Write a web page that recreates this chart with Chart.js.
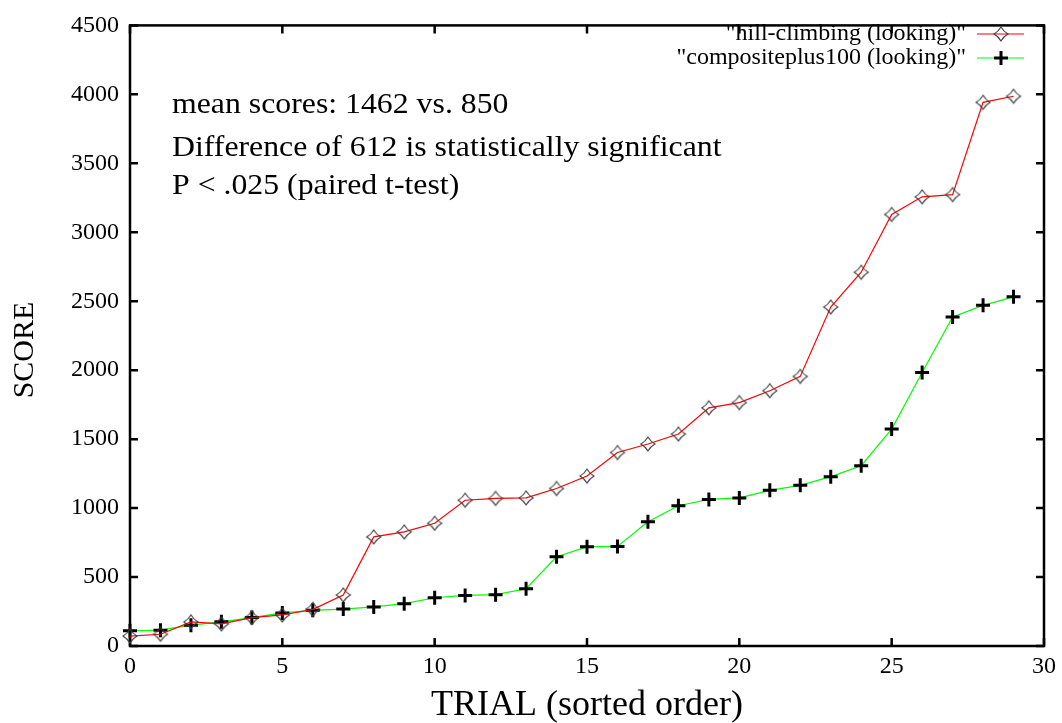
<!DOCTYPE html>
<html>
<head>
<meta charset="utf-8">
<script src="https://cdn.jsdelivr.net/npm/chart.js@4/dist/chart.umd.min.js"></script>
<style>
  html, body { margin: 0; padding: 0; background: #fff; }
  #wrap { width: 1062px; height: 723px; }
</style>
</head>
<body>
<div id="wrap"><canvas id="c" width="1062" height="723"></canvas></div>
<script>
// Trial index (runs sorted by score)
const trials = [0, 1, 2, 3, 4, 5, 6, 7, 8, 9, 10, 11, 12, 13, 14, 15, 16, 17, 18, 19,
                20, 21, 22, 23, 24, 25, 26, 27, 28, 29];

// Scores per trial, sorted ascending
const hillClimbing = [72, 85, 175, 160, 206, 225, 266, 370, 791, 827, 890, 1057, 1070, 1074,
                      1142, 1232, 1403, 1465, 1537, 1727, 1765, 1851, 1955, 2458, 2710, 3129,
                      3257, 3273, 3942, 3986];
const compositePlus100 = [110, 115, 151, 175, 206, 240, 259, 268, 283, 307, 350, 367, 372, 415,
                          647, 719, 722, 901, 1017, 1063, 1074, 1129, 1165, 1228, 1307, 1573,
                          1983, 2386, 2470, 2532];

const seriesLabels = ['"hill-climbing (looking)"', '"compositeplus100 (looking)"'];
const xTicks = [0, 5, 10, 15, 20, 25, 30];
const yTicks = [0, 500, 1000, 1500, 2000, 2500, 3000, 3500, 4000, 4500];
const noteLines = ['mean scores: 1462 vs. 850',
                   'Difference of 612 is statistically significant',
                   'P < .025 (paired t-test)'];
const xTitle = 'TRIAL (sorted order)';
const yTitle = 'SCORE';

const SERIF = '"Liberation Serif", "Times New Roman", serif';

// Concave four-point star marker
function makeStar(r, color) {
  const pad = 2;
  const s = Math.ceil(2 * r + 2 * pad);
  const cv = document.createElement('canvas');
  cv.width = s; cv.height = s;
  const g = cv.getContext('2d');
  const c = s / 2, k = 0.36 * r;
  g.beginPath();
  g.moveTo(c, c - r);
  g.quadraticCurveTo(c + k, c - k, c + r, c);
  g.quadraticCurveTo(c + k, c + k, c, c + r);
  g.quadraticCurveTo(c - k, c + k, c - r, c);
  g.quadraticCurveTo(c - k, c - k, c, c - r);
  g.closePath();
  g.strokeStyle = color;
  g.lineWidth = 1.1;
  g.stroke();
  return cv;
}
const starMarker = makeStar(7, '#404040');

const toPoints = (ys) => trials.map((t, i) => ({ x: t, y: ys[i] }));

// Frame box with inward tick marks on all four sides
const framePlugin = {
  id: 'frame',
  beforeDatasetsDraw(chart) {
    const { ctx, chartArea: a, scales: { x, y } } = chart;
    const tl = 8;
    ctx.save();
    ctx.strokeStyle = '#000';
    ctx.lineWidth = 2.5;
    ctx.beginPath();
    xTicks.forEach(v => {
      const px = x.getPixelForValue(v);
      ctx.moveTo(px, a.bottom); ctx.lineTo(px, a.bottom - tl);
      ctx.moveTo(px, a.top); ctx.lineTo(px, a.top + tl);
    });
    yTicks.forEach(v => {
      const py = y.getPixelForValue(v);
      ctx.moveTo(a.left, py); ctx.lineTo(a.left + tl, py);
      ctx.moveTo(a.right, py); ctx.lineTo(a.right - tl, py);
    });
    ctx.stroke();
    ctx.strokeRect(a.left, a.top, a.right - a.left, a.bottom - a.top);
    ctx.restore();
  },
  afterDraw(chart) {
    const { ctx, chartArea: a } = chart;
    ctx.save();
    ctx.fillStyle = '#000';

    // axis titles
    ctx.font = '36px ' + SERIF;
    ctx.textAlign = 'center';
    ctx.textBaseline = 'alphabetic';
    ctx.fillText(xTitle, (a.left + a.right) / 2, 715);

    ctx.save();
    ctx.translate(33, 350);
    ctx.rotate(-Math.PI / 2);
    ctx.font = '30px ' + SERIF;
    ctx.fillText(yTitle, 0, 0);
    ctx.restore();

    // statistics note
    ctx.font = '30px ' + SERIF;
    ctx.textAlign = 'left';
    const baselines = [113, 156, 194];
    noteLines.forEach((s, i) => {
      ctx.save();
      ctx.translate(172, baselines[i]);
      ctx.scale(1.06, 1);
      ctx.fillText(s, 0, 0);
      ctx.restore();
    });

    // key, top right
    ctx.font = '24px ' + SERIF;
    ctx.textAlign = 'right';
    ctx.textBaseline = 'middle';
    const rows = [34, 58];
    chart.data.datasets.forEach((ds, i) => {
      const ry = rows[i];
      ctx.fillStyle = '#000';
      ctx.fillText(ds.label, 966, ry);
      ctx.strokeStyle = ds.borderColor;
      ctx.lineWidth = 1.2;
      ctx.beginPath();
      ctx.moveTo(977, ry); ctx.lineTo(1024, ry);
      ctx.stroke();
      if (i === 0) {
        ctx.drawImage(starMarker, 1001 - starMarker.width / 2, ry - starMarker.height / 2);
      } else {
        ctx.strokeStyle = '#000';
        ctx.lineWidth = 3;
        ctx.beginPath();
        ctx.moveTo(1001 - 7, ry); ctx.lineTo(1001 + 7, ry);
        ctx.moveTo(1001, ry - 7); ctx.lineTo(1001, ry + 7);
        ctx.stroke();
      }
    });
    ctx.restore();
  }
};

new Chart(document.getElementById('c'), {
  type: 'line',
  data: {
    datasets: [
      {
        label: seriesLabels[0],
        data: toPoints(hillClimbing),
        borderColor: '#ff0000',
        borderWidth: 1.2,
        pointStyle: starMarker,
        pointRadius: 7,
        tension: 0,
        clip: false
      },
      {
        label: seriesLabels[1],
        data: toPoints(compositePlus100),
        borderColor: '#00ff00',
        borderWidth: 1.2,
        pointStyle: 'cross',
        pointRadius: 7,
        pointBorderColor: '#000',
        pointBorderWidth: 3,
        tension: 0,
        clip: false
      }
    ]
  },
  options: {
    responsive: false,
    animation: false,
    devicePixelRatio: 1,
    layout: { padding: { top: 20, right: 18, left: 0, bottom: 0 } },
    plugins: { legend: { display: false }, tooltip: { enabled: false } },
    scales: {
      x: {
        type: 'linear',
        min: 0, max: 30,
        afterBuildTicks: (s) => { s.ticks = xTicks.map(v => ({ value: v })); },
        afterFit: (s) => { s.height = 77; },
        grid: { display: false, drawTicks: false },
        border: { display: false },
        ticks: { color: '#000', padding: 6, maxRotation: 0,
                 callback: (v) => String(v),
                 font: { family: SERIF, size: 24 } }
      },
      y: {
        type: 'linear',
        min: 0, max: 4500,
        afterBuildTicks: (s) => { s.ticks = yTicks.map(v => ({ value: v })); },
        afterFit: (s) => { s.width = 130; },
        grid: { display: false, drawTicks: false },
        border: { display: false },
        ticks: { color: '#000', padding: 11,
                 callback: (v) => String(v),
                 font: { family: SERIF, size: 24 } }
      }
    }
  },
  plugins: [framePlugin]
});
</script>
</body>
</html>
